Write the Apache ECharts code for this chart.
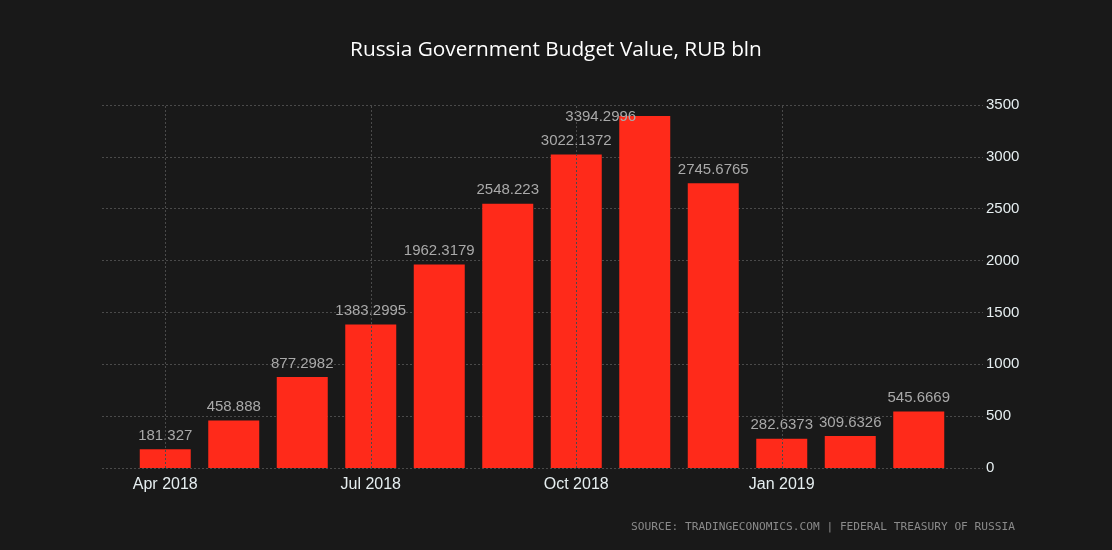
<!DOCTYPE html>
<html>
<head>
<meta charset="utf-8">
<script src="https://cdn.jsdelivr.net/npm/echarts@6/dist/echarts.min.js"></script>
<style>
  html, body { margin: 0; padding: 0; background: #191919; }
  #chart { width: 1112px; height: 550px; }
</style>
</head>
<body>
<div id="chart"></div>
<script>
const months = ['Apr 2018', 'May 2018', 'Jun 2018', 'Jul 2018', 'Aug 2018', 'Sep 2018',
    'Oct 2018', 'Nov 2018', 'Dec 2018', 'Jan 2019', 'Feb 2019', 'Mar 2019'];
const budget = [181.327, 458.888, 877.2982, 1383.2995, 1962.3179, 2548.223,
    3022.1372, 3394.2996, 2745.6765, 282.6373, 309.6326, 545.6669];
const gridMonths = ['Apr 2018', 'Jul 2018', 'Oct 2018', 'Jan 2019'];

const chart = echarts.init(document.getElementById('chart'));

const dotted = { color: '#4a4a4a', type: [2, 2], width: 1 };

// the Nov label sits shifted left in the original, touching its bar
const barData = budget.map((v, i) =>
    months[i] === 'Nov 2018' ? { value: v, label: { offset: [-44, 14] } } : v
);

const option = {
    backgroundColor: '#191919',
    animation: false,
    title: [
        {
            text: 'Russia Government Budget Value, RUB bln',
            left: 'center',
            top: 35,
            textStyle: { color: '#ffffff', fontFamily: 'Open Sans', fontSize: 20.8, fontWeight: 'normal' }
        },
        {
            text: 'SOURCE: TRADINGECONOMICS.COM | FEDERAL TREASURY OF RUSSIA',
            right: 92,
            top: 517,
            textStyle: { color: '#8a8a8a', fontFamily: 'DejaVu Sans Mono', fontSize: 11.2, fontWeight: 'normal' }
        }
    ],
    grid: [
        // background grid, wider than the bars
        { left: 102, right: 129, top: 105, bottom: 82 },
        // bars
        { left: 131, width: 822, top: 105, bottom: 82 }
    ],
    xAxis: [
        { type: 'category', gridIndex: 0, data: months, show: false },
        {
            type: 'category',
            gridIndex: 1,
            data: months,
            axisLine: { show: false },
            axisTick: { show: false },
            splitLine: { show: false },
            axisLabel: {
                interval: 2,
                color: '#e6eef0',
                fontFamily: 'Liberation Sans',
                fontSize: 16,
                margin: 9
            }
        }
    ],
    yAxis: [
        {
            type: 'value',
            gridIndex: 0,
            position: 'right',
            min: 0,
            max: 3500,
            interval: 500,
            axisLine: { show: false },
            axisTick: { show: false },
            splitLine: { show: true, lineStyle: dotted },
            axisLabel: {
                color: '#e6eef0',
                fontFamily: 'Liberation Sans',
                fontSize: 15,
                margin: 3,
                formatter: (v) => String(v)
            }
        },
        {
            type: 'value',
            gridIndex: 1,
            min: 0,
            max: 3500,
            interval: 500,
            show: false
        }
    ],
    series: [
        {
            type: 'bar',
            xAxisIndex: 1,
            yAxisIndex: 1,
            data: barData,
            barWidth: 51,
            itemStyle: { color: '#ff2a1a' },
            label: {
                show: true,
                position: 'top',
                distance: 6,
                color: '#a9a9a9',
                fontFamily: 'Liberation Sans',
                fontSize: 15
            },
            markLine: {
                silent: true,
                symbol: ['none', 'none'],
                label: { show: false },
                lineStyle: dotted,
                data: gridMonths.map((m) => ({ xAxis: m }))
            }
        }
    ]
};

chart.setOption(option);
</script>
</body>
</html>
